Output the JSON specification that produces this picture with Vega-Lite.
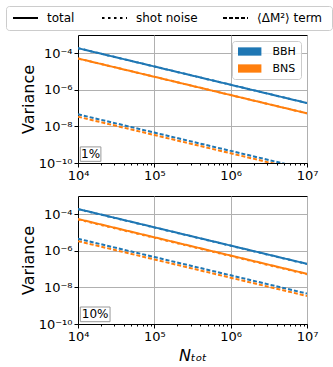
{
  "$schema": "https://vega.github.io/schema/vega-lite/v6.json",
  "padding": {"left": 5, "top": 5, "right": 2, "bottom": 2},
  "background": "white",
  "config": {
    "font": "DejaVu Sans",
    "view": {"stroke": "black", "strokeWidth": 1},
    "axis": {"domainColor": "black", "tickColor": "black", "labelColor": "black", "titleColor": "black", "labelFont": "DejaVu Sans", "titleFont": "DejaVu Sans", "labelFontSize": 13, "titleFontSize": 16, "titleFontWeight": "normal", "gridColor": "#b0b0b0", "gridWidth": 1, "tickSize": 4, "labelPadding": 2, "domainWidth": 1},
    "concat": {"spacing": 12},
    "legend": {"labelFont": "DejaVu Sans", "labelColor": "black"}
  },
  "datasets": {
    "d": [
      {"panel": "1%", "pop": "BBH", "term": "total", "N": 10000, "v": 1.9005e-4},
      {"panel": "1%", "pop": "BBH", "term": "total", "N": 100000, "v": 1.9005e-5},
      {"panel": "1%", "pop": "BBH", "term": "total", "N": 1000000, "v": 1.9005e-6},
      {"panel": "1%", "pop": "BBH", "term": "total", "N": 10000000, "v": 1.9005e-7},
      {"panel": "1%", "pop": "BBH", "term": "shot noise", "N": 10000, "v": 1.9e-4},
      {"panel": "1%", "pop": "BBH", "term": "shot noise", "N": 100000, "v": 1.9e-5},
      {"panel": "1%", "pop": "BBH", "term": "shot noise", "N": 1000000, "v": 1.9e-6},
      {"panel": "1%", "pop": "BBH", "term": "shot noise", "N": 10000000, "v": 1.9e-7},
      {"panel": "1%", "pop": "BBH", "term": "⟨ΔM²⟩ term", "N": 10000, "v": 4.6e-8},
      {"panel": "1%", "pop": "BBH", "term": "⟨ΔM²⟩ term", "N": 100000, "v": 4.6e-9},
      {"panel": "1%", "pop": "BBH", "term": "⟨ΔM²⟩ term", "N": 1000000, "v": 4.6e-10},
      {"panel": "1%", "pop": "BBH", "term": "⟨ΔM²⟩ term", "N": 10000000, "v": 4.6e-11},
      {"panel": "1%", "pop": "BNS", "term": "total", "N": 10000, "v": 5.2034e-5},
      {"panel": "1%", "pop": "BNS", "term": "total", "N": 100000, "v": 5.2034e-6},
      {"panel": "1%", "pop": "BNS", "term": "total", "N": 1000000, "v": 5.2034e-7},
      {"panel": "1%", "pop": "BNS", "term": "total", "N": 10000000, "v": 5.2034e-8},
      {"panel": "1%", "pop": "BNS", "term": "shot noise", "N": 10000, "v": 5.2e-5},
      {"panel": "1%", "pop": "BNS", "term": "shot noise", "N": 100000, "v": 5.2e-6},
      {"panel": "1%", "pop": "BNS", "term": "shot noise", "N": 1000000, "v": 5.2e-7},
      {"panel": "1%", "pop": "BNS", "term": "shot noise", "N": 10000000, "v": 5.2e-8},
      {"panel": "1%", "pop": "BNS", "term": "⟨ΔM²⟩ term", "N": 10000, "v": 3.4e-8},
      {"panel": "1%", "pop": "BNS", "term": "⟨ΔM²⟩ term", "N": 100000, "v": 3.4e-9},
      {"panel": "1%", "pop": "BNS", "term": "⟨ΔM²⟩ term", "N": 1000000, "v": 3.4e-10},
      {"panel": "1%", "pop": "BNS", "term": "⟨ΔM²⟩ term", "N": 10000000, "v": 3.4e-11},
      {"panel": "10%", "pop": "BBH", "term": "total", "N": 10000, "v": 1.946e-4},
      {"panel": "10%", "pop": "BBH", "term": "total", "N": 100000, "v": 1.946e-5},
      {"panel": "10%", "pop": "BBH", "term": "total", "N": 1000000, "v": 1.946e-6},
      {"panel": "10%", "pop": "BBH", "term": "total", "N": 10000000, "v": 1.946e-7},
      {"panel": "10%", "pop": "BBH", "term": "shot noise", "N": 10000, "v": 1.9e-4},
      {"panel": "10%", "pop": "BBH", "term": "shot noise", "N": 100000, "v": 1.9e-5},
      {"panel": "10%", "pop": "BBH", "term": "shot noise", "N": 1000000, "v": 1.9e-6},
      {"panel": "10%", "pop": "BBH", "term": "shot noise", "N": 10000000, "v": 1.9e-7},
      {"panel": "10%", "pop": "BBH", "term": "⟨ΔM²⟩ term", "N": 10000, "v": 4.6e-6},
      {"panel": "10%", "pop": "BBH", "term": "⟨ΔM²⟩ term", "N": 100000, "v": 4.6e-7},
      {"panel": "10%", "pop": "BBH", "term": "⟨ΔM²⟩ term", "N": 1000000, "v": 4.6e-8},
      {"panel": "10%", "pop": "BBH", "term": "⟨ΔM²⟩ term", "N": 10000000, "v": 4.6e-9},
      {"panel": "10%", "pop": "BNS", "term": "total", "N": 10000, "v": 5.54e-5},
      {"panel": "10%", "pop": "BNS", "term": "total", "N": 100000, "v": 5.54e-6},
      {"panel": "10%", "pop": "BNS", "term": "total", "N": 1000000, "v": 5.54e-7},
      {"panel": "10%", "pop": "BNS", "term": "total", "N": 10000000, "v": 5.54e-8},
      {"panel": "10%", "pop": "BNS", "term": "shot noise", "N": 10000, "v": 5.2e-5},
      {"panel": "10%", "pop": "BNS", "term": "shot noise", "N": 100000, "v": 5.2e-6},
      {"panel": "10%", "pop": "BNS", "term": "shot noise", "N": 1000000, "v": 5.2e-7},
      {"panel": "10%", "pop": "BNS", "term": "shot noise", "N": 10000000, "v": 5.2e-8},
      {"panel": "10%", "pop": "BNS", "term": "⟨ΔM²⟩ term", "N": 10000, "v": 3.4e-6},
      {"panel": "10%", "pop": "BNS", "term": "⟨ΔM²⟩ term", "N": 100000, "v": 3.4e-7},
      {"panel": "10%", "pop": "BNS", "term": "⟨ΔM²⟩ term", "N": 1000000, "v": 3.4e-8},
      {"panel": "10%", "pop": "BNS", "term": "⟨ΔM²⟩ term", "N": 10000000, "v": 3.4e-9}
    ]
  },
  "resolve": {"legend": {"color": "independent", "strokeDash": "independent"}},
  "vconcat": [
    {
      "width": 229,
      "height": 128,
      "layer": [
        {
          "data": {"name": "d"},
          "transform": [{"filter": "datum.panel == '1%'"}],
          "mark": {"type": "line", "clip": true, "strokeWidth": 2},
          "encoding": {
            "x": {"field": "N", "type": "quantitative", "scale": {"type": "log", "domain": [10000, 10000000], "nice": false},
              "axis": {"title": null, "values": [10000, 20000, 30000, 40000, 50000, 60000, 70000, 80000, 90000, 100000, 200000, 300000, 400000, 500000, 600000, 700000, 800000, 900000, 1000000, 2000000, 3000000, 4000000, 5000000, 6000000, 7000000, 8000000, 9000000, 10000000],
                "labelExpr": "datum.value == 10000 ? '10⁴' : datum.value == 100000 ? '10⁵' : datum.value == 1000000 ? '10⁶' : datum.value == 10000000 ? '10⁷' : ''",
                "tickSize": {"condition": {"test": "datum.value == 10000 || datum.value == 100000 || datum.value == 1000000 || datum.value == 10000000", "value": 4}, "value": 2},
                "gridOpacity": {"condition": {"test": "datum.value == 10000 || datum.value == 100000 || datum.value == 1000000 || datum.value == 10000000", "value": 1}, "value": 0},
                "labelFlush": false, "labelOverlap": false}},
            "y": {"field": "v", "type": "quantitative", "scale": {"type": "log", "domain": [1e-10, 1e-3], "nice": false},
              "axis": {"title": "Variance", "values": [1e-10, 1e-8, 1e-6, 1e-4], "titlePadding": 2,
                "labelExpr": "datum.value < 1e-9 ? '10⁻¹⁰' : datum.value < 1e-7 ? '10⁻⁸' : datum.value < 1e-5 ? '10⁻⁶' : '10⁻⁴'"}},
            "color": {"field": "pop", "type": "nominal", "scale": {"domain": ["BBH", "BNS"], "range": ["#1f77b4", "#ff7f0e"]},
              "legend": {"title": null, "orient": "top-right", "offset": 6, "symbolType": "M-1,-0.92H4.2V0.92H-1Z", "symbolSize": 81, "labelFontSize": 11, "labelOffset": 24.4, "rowPadding": 5, "padding": 5, "strokeColor": "#cccccc", "fillColor": "rgba(255,255,255,0.8)", "cornerRadius": 3,
                "encode": {"symbols": {"update": {"fill": {"scale": "color", "field": "value"}, "fillOpacity": {"value": 1}, "stroke": {"value": "transparent"}, "strokeWidth": {"value": 0}}}}}},
            "strokeDash": {"field": "term", "type": "nominal", "scale": {"domain": ["total", "shot noise", "⟨ΔM²⟩ term"], "range": [[1, 0], [2.5, 3.5], [4, 2]]},
              "legend": {"title": null, "orient": "none", "direction": "horizontal", "legendX": -72, "legendY": -29, "symbolType": "M-1,0H4", "symbolSize": 100, "symbolStrokeWidth": 2, "symbolStrokeColor": "black", "labelFontSize": 12, "labelOffset": 23, "columnPadding": 0, "padding": 6, "strokeColor": "#cccccc", "fillColor": "white", "cornerRadius": 3,
                "encode": {"symbols": {"update": {"strokeJoin": {"value": "bevel"}, "shape": {"signal": "datum.value == 'total' ? 'M-1,0H4M16.4,0' : datum.value == 'shot noise' ? 'M-1,0H4M22.8,0' : 'M-1,0H4M19.4,0'"}}}}}}
          }
        },
        {
          "data": {"values": [{}]},
          "mark": {"type": "rect", "fill": "white", "stroke": "#999999", "strokeWidth": 1},
          "encoding": {"x": {"datum": 10715}, "x2": {"datum": 19953}, "y": {"datum": 1.23e-10}, "y2": {"datum": 7.6e-10}}
        },
        {
          "data": {"values": [{}]},
          "mark": {"type": "text", "align": "center", "baseline": "middle", "fontSize": 12, "font": "DejaVu Sans", "color": "black"},
          "encoding": {"x": {"datum": 14620}, "y": {"datum": 3.05e-10}, "text": {"value": "1%"}}
        }
      ]
    },
    {
      "width": 229,
      "height": 128,
      "layer": [
        {
          "data": {"name": "d"},
          "transform": [{"filter": "datum.panel == '10%'"}],
          "mark": {"type": "line", "clip": true, "strokeWidth": 2},
          "encoding": {
            "x": {"field": "N", "type": "quantitative", "scale": {"type": "log", "domain": [10000, 10000000], "nice": false},
              "axis": {"title": "Nₜₒₜ", "titleFontStyle": "italic", "titlePadding": 4, "values": [10000, 20000, 30000, 40000, 50000, 60000, 70000, 80000, 90000, 100000, 200000, 300000, 400000, 500000, 600000, 700000, 800000, 900000, 1000000, 2000000, 3000000, 4000000, 5000000, 6000000, 7000000, 8000000, 9000000, 10000000],
                "labelExpr": "datum.value == 10000 ? '10⁴' : datum.value == 100000 ? '10⁵' : datum.value == 1000000 ? '10⁶' : datum.value == 10000000 ? '10⁷' : ''",
                "tickSize": {"condition": {"test": "datum.value == 10000 || datum.value == 100000 || datum.value == 1000000 || datum.value == 10000000", "value": 4}, "value": 2},
                "gridOpacity": {"condition": {"test": "datum.value == 10000 || datum.value == 100000 || datum.value == 1000000 || datum.value == 10000000", "value": 1}, "value": 0},
                "labelFlush": false, "labelOverlap": false}},
            "y": {"field": "v", "type": "quantitative", "scale": {"type": "log", "domain": [1e-10, 1e-3], "nice": false},
              "axis": {"title": "Variance", "values": [1e-10, 1e-8, 1e-6, 1e-4], "titlePadding": 2,
                "labelExpr": "datum.value < 1e-9 ? '10⁻¹⁰' : datum.value < 1e-7 ? '10⁻⁸' : datum.value < 1e-5 ? '10⁻⁶' : '10⁻⁴'"}},
            "color": {"field": "pop", "type": "nominal", "scale": {"domain": ["BBH", "BNS"], "range": ["#1f77b4", "#ff7f0e"]}, "legend": null},
            "strokeDash": {"field": "term", "type": "nominal", "scale": {"domain": ["total", "shot noise", "⟨ΔM²⟩ term"], "range": [[1, 0], [2.5, 3.5], [4, 2]]}, "legend": null}
          }
        },
        {
          "data": {"values": [{}]},
          "mark": {"type": "rect", "fill": "white", "stroke": "#999999", "strokeWidth": 1},
          "encoding": {"x": {"datum": 10715}, "x2": {"datum": 26300}, "y": {"datum": 1.34e-10}, "y2": {"datum": 8.5e-10}}
        },
        {
          "data": {"values": [{}]},
          "mark": {"type": "text", "align": "center", "baseline": "middle", "fontSize": 12, "font": "DejaVu Sans", "color": "black"},
          "encoding": {"x": {"datum": 16790}, "y": {"datum": 3.39e-10}, "text": {"value": "10%"}}
        }
      ]
    }
  ]
}
